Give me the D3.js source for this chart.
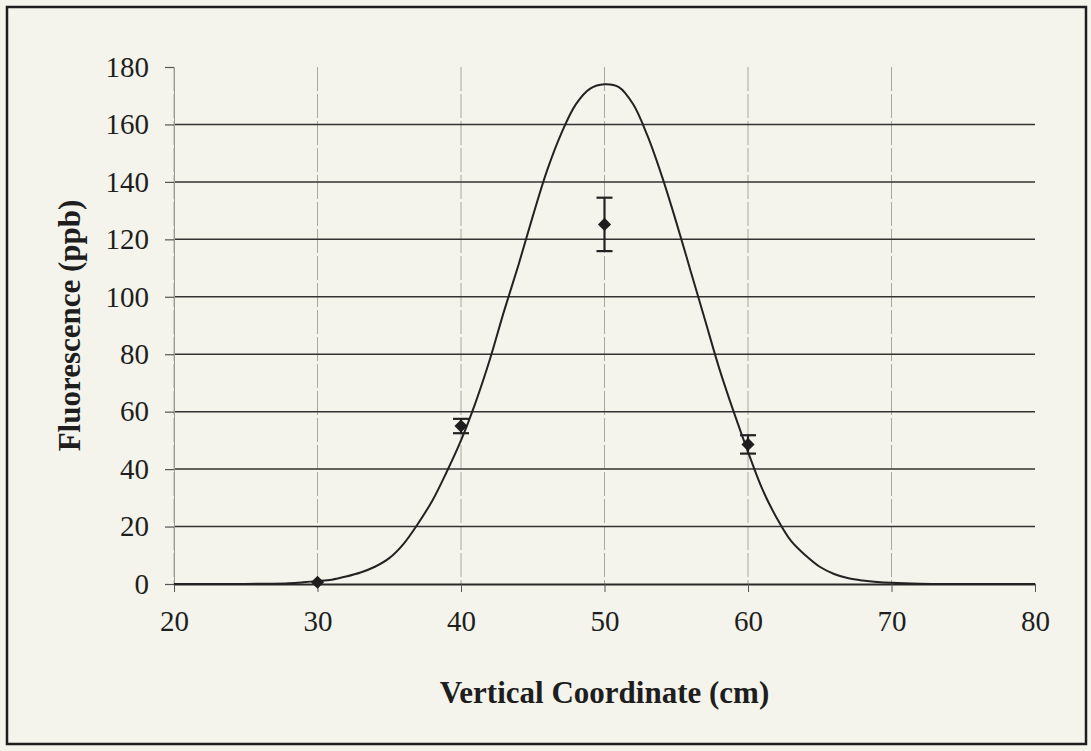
<!DOCTYPE html>
<html>
<head>
<meta charset="utf-8">
<script src="https://cdn.jsdelivr.net/npm/d3@7"></script>
<style>
  body { margin: 0; background: #f4f4ec; }
  svg { display: block; }
  text { font-family: "Liberation Serif", "Times New Roman", serif; fill: #1e1e1e; }
</style>
</head>
<body>
<div id="chart"></div>
<script>
// measured points with error bars
const pointX = [30, 40, 50, 60];
const pointY = [0.6, 55, 125.2, 48.6];
const pointErr = [0, 2.5, 9.3, 3.2];

// model curve
const curveX = [20, 22, 24, 26, 28, 29, 30, 31, 32, 33, 34, 35, 36, 37, 38, 39, 40, 41, 42, 43, 44, 45, 46, 47, 48, 49, 50,
    51, 52, 53, 54, 55, 56, 57, 58, 59, 60, 61, 62, 63, 64, 65, 66, 67, 68, 69, 70, 72, 74, 76, 78, 80];
const curveY = [0, 0, 0, 0.1, 0.3, 0.6, 1, 1.5, 2.6, 4, 6, 9, 14, 21, 29, 39, 50, 63, 78, 95, 111, 128, 144, 157, 167, 172.5, 174,
    173, 167, 156, 142, 126, 109, 92, 75, 60, 46, 33, 23, 15, 10, 6, 3.5, 2, 1.2, 0.7, 0.4, 0.1, 0, 0, 0, 0];

const xTicks = [20, 30, 40, 50, 60, 70, 80];
const yTicks = [0, 20, 40, 60, 80, 100, 120, 140, 160, 180];

const W = 1091, H = 751;
const margin = { left: 174, right: 56, top: 67, bottom: 167 };

const svg = d3.select("#chart").append("svg")
    .attr("width", W)
    .attr("height", H);

// outer frame
svg.append("rect")
    .attr("x", 7).attr("y", 7)
    .attr("width", 1079).attr("height", 737)
    .attr("fill", "#f4f4ec")
    .attr("stroke", "#1e1e1e")
    .attr("stroke-width", 2.5);

const x = d3.scaleLinear().domain([20, 80]).range([margin.left, W - margin.right]);
const y = d3.scaleLinear().domain([0, 180]).range([H - margin.bottom, margin.top]);

// vertical gridlines (light)
svg.append("g")
    .selectAll("line")
    .data(xTicks.filter(d => d < 80))
    .enter().append("line")
    .attr("x1", d => x(d)).attr("x2", d => x(d))
    .attr("y1", y(180)).attr("y2", y(0))
    .attr("stroke", "#a8a8a2")
    .attr("stroke-width", 1)
    .attr("stroke-dasharray", "24,3");

// horizontal gridlines (dark)
svg.append("g")
    .selectAll("line")
    .data(yTicks.filter(d => d > 0 && d < 180))
    .enter().append("line")
    .attr("x1", x(20)).attr("x2", x(80))
    .attr("y1", d => y(d)).attr("y2", d => y(d))
    .attr("stroke", "#333331")
    .attr("stroke-width", 1.5);

// x axis
const xAxis = svg.append("g")
    .attr("transform", "translate(0," + y(0) + ")")
    .call(d3.axisBottom(x).tickValues(xTicks).tickSizeInner(8).tickSizeOuter(0).tickPadding(18));
xAxis.select(".domain").attr("stroke", "#2a2a28").attr("stroke-width", 2);
xAxis.selectAll(".tick line").attr("stroke", "#555").attr("stroke-width", 1);
xAxis.selectAll("text").attr("font-size", 29).attr("fill", "#1e1e1e")
    .attr("font-family", "'Liberation Serif', serif");

// y axis
const yAxis = svg.append("g")
    .attr("transform", "translate(" + x(20) + ",0)")
    .call(d3.axisLeft(y).tickValues(yTicks).tickSizeInner(9).tickSizeOuter(0).tickPadding(16));
yAxis.select(".domain").attr("stroke", "#9a9a96").attr("stroke-width", 1);
yAxis.selectAll(".tick line").attr("stroke", "#555").attr("stroke-width", 1.2);
yAxis.selectAll("text").attr("font-size", 29).attr("fill", "#1e1e1e")
    .attr("font-family", "'Liberation Serif', serif");

// model curve
const line = d3.line()
    .x((d, i) => x(curveX[i]))
    .y(d => y(Math.max(0, d)))
    .curve(d3.curveCatmullRom.alpha(0.5));

svg.append("path")
    .datum(curveY)
    .attr("d", line)
    .attr("fill", "none")
    .attr("stroke", "#222")
    .attr("stroke-width", 2);

// error bars
const pts = pointX.map((d, i) => ({ x: d, y: pointY[i], e: pointErr[i] }));
const eb = svg.append("g").selectAll("g")
    .data(pts.filter(d => d.e > 0))
    .enter().append("g")
    .attr("stroke", "#222")
    .attr("stroke-width", 2.2);
eb.append("line")
    .attr("x1", d => x(d.x)).attr("x2", d => x(d.x))
    .attr("y1", d => y(d.y + d.e)).attr("y2", d => y(d.y - d.e));
eb.append("line")
    .attr("x1", d => x(d.x) - 8).attr("x2", d => x(d.x) + 8)
    .attr("y1", d => y(d.y + d.e)).attr("y2", d => y(d.y + d.e));
eb.append("line")
    .attr("x1", d => x(d.x) - 8).attr("x2", d => x(d.x) + 8)
    .attr("y1", d => y(d.y - d.e)).attr("y2", d => y(d.y - d.e));

// diamond markers
svg.append("g").selectAll("path")
    .data(pts)
    .enter().append("path")
    .attr("d", d3.symbol().type(d3.symbolDiamond2).size(110))
    .attr("transform", d => "translate(" + x(d.x) + "," + y(d.y) + ")")
    .attr("fill", "#1e1e1e");

// axis titles
svg.append("text")
    .attr("x", (x(20) + x(80)) / 2)
    .attr("y", 703)
    .attr("text-anchor", "middle")
    .attr("font-size", 31)
    .attr("font-weight", "bold")
    .text("Vertical Coordinate (cm)");

svg.append("text")
    .attr("transform", "translate(80," + (y(90)) + ") rotate(-90)")
    .attr("text-anchor", "middle")
    .attr("font-size", 31)
    .attr("font-weight", "bold")
    .text("Fluorescence (ppb)");
</script>
</body>
</html>
